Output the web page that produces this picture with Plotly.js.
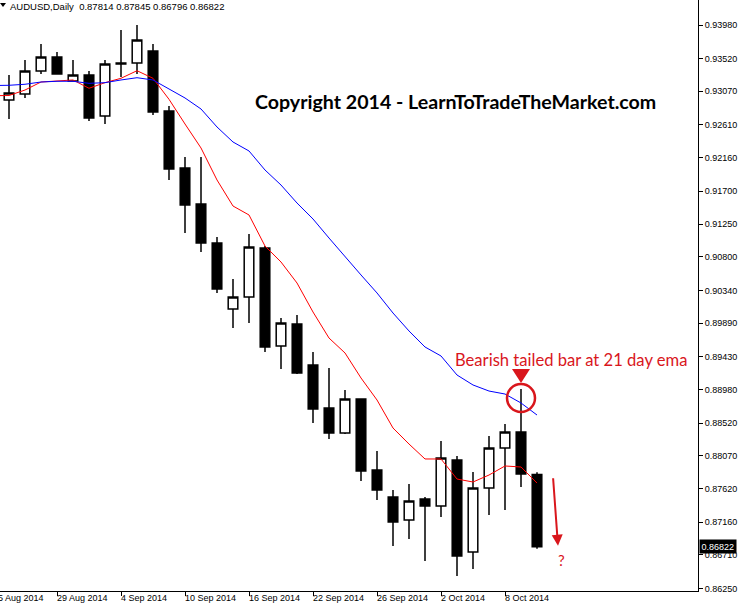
<!DOCTYPE html>
<html>
<head>
<meta charset="utf-8">
<script src="https://cdn.plot.ly/plotly-3.0.1.min.js"></script>
<style>html,body{margin:0;padding:0;background:#fff}#chart{width:738px;height:604px}</style>
</head>
<body>
<div id="chart"></div>
<script>
// ---- data ----
const dates = ['2014-08-26','2014-08-27','2014-08-28','2014-08-29','2014-09-01','2014-09-02','2014-09-03','2014-09-04','2014-09-05','2014-09-08','2014-09-09','2014-09-10','2014-09-11','2014-09-12','2014-09-15','2014-09-16','2014-09-17','2014-09-18','2014-09-19','2014-09-22','2014-09-23','2014-09-24','2014-09-25','2014-09-26','2014-09-29','2014-09-30','2014-10-01','2014-10-02','2014-10-03','2014-10-06','2014-10-07','2014-10-08','2014-10-09','2014-10-10'];
const open  = [0.92951,0.93034,0.93349,0.93541,0.93212,0.93294,0.92732,0.93459,0.93459,0.93623,0.92800,0.92018,0.91525,0.90990,0.90084,0.90249,0.90921,0.89577,0.89879,0.89316,0.88726,0.88383,0.88850,0.87876,0.87505,0.87190,0.87478,0.87382,0.88013,0.86751,0.87629,0.88178,0.88397,0.87814];
const high  = [0.93294,0.93500,0.93719,0.93610,0.93500,0.93349,0.93500,0.93911,0.93980,0.93719,0.92869,0.92169,0.92169,0.91072,0.90496,0.91113,0.90948,0.89961,0.90002,0.89494,0.89275,0.88973,0.88855,0.88136,0.87601,0.87684,0.87505,0.88274,0.88068,0.87848,0.88342,0.88507,0.88987,0.87845];
const low   = [0.92691,0.92979,0.93308,0.93300,0.93205,0.92663,0.92622,0.93267,0.93308,0.92745,0.91854,0.91127,0.90866,0.90304,0.89824,0.89892,0.89494,0.89261,0.89193,0.88520,0.88301,0.88370,0.87725,0.87464,0.86833,0.86929,0.86628,0.87231,0.86422,0.86518,0.87259,0.87327,0.87643,0.86796];
const close = [0.93047,0.93349,0.93541,0.93308,0.93294,0.92704,0.93445,0.93445,0.93774,0.92787,0.92005,0.91511,0.90990,0.90359,0.90249,0.90935,0.89563,0.89892,0.89206,0.88713,0.88383,0.88850,0.87862,0.87601,0.87162,0.87451,0.87382,0.88040,0.86696,0.87629,0.88178,0.88397,0.87821,0.86822];

const emaDates = ['2014-08-25'].concat(dates);
const ema10 = [0.93010,0.93013,0.93088,0.93198,0.93212,0.93226,0.93112,0.93189,0.93249,0.93353,0.93249,0.92961,0.92622,0.92293,0.91854,0.91497,0.91374,0.90948,0.90729,0.90441,0.90043,0.89686,0.89481,0.89138,0.88836,0.88452,0.88232,0.88027,0.88027,0.87752,0.87711,0.87807,0.87931,0.87917,0.87697];
const ema21 = [0.93150,0.93153,0.93167,0.93198,0.93208,0.93208,0.93180,0.93189,0.93226,0.93257,0.93226,0.93102,0.92979,0.92828,0.92581,0.92375,0.92252,0.91991,0.91785,0.91538,0.91319,0.91058,0.90798,0.90551,0.90304,0.90029,0.89783,0.89563,0.89440,0.89179,0.89042,0.88959,0.88918,0.88795,0.88630];

const xTickDates = ['2014-08-25','2014-08-29','2014-09-04','2014-09-10','2014-09-16','2014-09-22','2014-09-26','2014-10-02','2014-10-08'];
const xTickText  = ['25 Aug 2014','29 Aug 2014','4 Sep 2014','10 Sep 2014','16 Sep 2014','22 Sep 2014','26 Sep 2014','2 Oct 2014','8 Oct 2014'];
const yTickVals  = [0.93980,0.93520,0.93070,0.92610,0.92160,0.91700,0.91250,0.90800,0.90340,0.89890,0.89430,0.88980,0.88520,0.88070,0.87620,0.87160,0.86710,0.86250];

const symbol = 'AUDUSD,Daily';
const headerText = symbol + '  ' + [open[open.length-1], high[high.length-1], low[low.length-1], close[close.length-1]].map(v => v.toFixed(5)).join(' ');
const copyrightText = 'Copyright 2014 - LearnToTradeTheMarket.com';
const noteText = 'Bearish tailed bar at 21 day ema';
const noteDate = '2014-10-09';

// ---- helpers ----
function tIdx(d) {
  const t0 = Date.parse(dates[0]), t = Date.parse(d);
  let n = 0;
  if (t >= t0) { for (let s = t0; s < t; s += 864e5) { const wd = new Date(s + 864e5).getUTCDay(); if (wd !== 0 && wd !== 6) n++; } }
  else { for (let s = t0; s > t; s -= 864e5) { const wd = new Date(s - 864e5).getUTCDay(); if (wd !== 0 && wd !== 6) n--; } }
  return n;
}
const xs = dates.map(tIdx);
const emaX = emaDates.map(tIdx);
const xTickPos = xTickDates.map(tIdx);
const xRange = [-0.5625, 43.0625];

const axisFont = {family: 'Liberation Sans, Arial, sans-serif', size: 9, color: '#000'};
const RED = '#d9161c';

const traces = [
  {
    type: 'candlestick', x: xs, open: open, high: high, low: low, close: close,
    increasing: {line: {color: '#000', width: 1.5}, fillcolor: '#fff'},
    decreasing: {line: {color: '#000', width: 1.5}, fillcolor: '#000'},
    whiskerwidth: 0, hoverinfo: 'skip', showlegend: false
  },
  {type: 'scatter', mode: 'lines', x: emaX, y: ema10, line: {color: '#ff0000', width: 1}, hoverinfo: 'skip'},
  {type: 'scatter', mode: 'lines', x: emaX, y: ema21, line: {color: '#0000ff', width: 1}, hoverinfo: 'skip'}
];

const ni = xs[dates.indexOf(noteDate)];
const nHigh = high[dates.indexOf(noteDate)];
const li = xs[xs.length - 1];
const lLow = low[low.length - 1];
const lastClose = close[close.length - 1];

const annotations = [
  {xref: 'paper', yref: 'paper', x: 0, y: 1, xanchor: 'left', yanchor: 'top', xshift: 8, yshift: 1,
   text: headerText, showarrow: false, font: {family: axisFont.family, size: 9.5, color: '#000'}},
  {xref: 'paper', yref: 'paper', x: 455.5/698, y: 1 - 101/591, xanchor: 'center', yanchor: 'middle',
   text: '<b>' + copyrightText + '</b>', showarrow: false, font: {family: 'Lato, sans-serif', size: 19.6, color: '#000'}},
  {xref: 'x', yref: 'y', x: ni, y: nHigh, xanchor: 'center', yanchor: 'middle', xshift: 49.5, yshift: 29,
   text: noteText, showarrow: false, font: {family: 'Lato, sans-serif', size: 16.6, color: RED}},
  {xref: 'x', yref: 'y', x: li, y: lLow, xshift: 21, yshift: 3, text: '', showarrow: true,
   ax: -5, ay: -69, arrowhead: 2, arrowsize: 1.1, arrowwidth: 2, arrowcolor: RED, standoff: 0},
  {xref: 'x', yref: 'y', x: li, y: lLow, xshift: 24, yshift: -11, xanchor: 'center', yanchor: 'middle',
   text: '?', showarrow: false, font: {family: 'Lato, sans-serif', size: 15, color: RED}},
  {xref: 'paper', yref: 'y', x: 1, y: lastClose, xanchor: 'left', yanchor: 'middle', xshift: 1,
   text: lastClose.toFixed(5), showarrow: false, bgcolor: '#000', borderpad: 1.5,
   font: {family: axisFont.family, size: 9, color: '#fff'}}
];
xTickPos.forEach((p, k) => {
  annotations.push({xref: 'paper', yref: 'paper', x: (p - xRange[0]) / (xRange[1] - xRange[0]), y: 0,
    xanchor: 'left', yanchor: 'top', xshift: -1, yshift: -1, borderpad: 0,
    text: xTickText[k], showarrow: false, font: axisFont});
});

const shapes = [
  {type: 'circle', xref: 'x', yref: 'y', xsizemode: 'pixel', ysizemode: 'pixel', xanchor: ni, yanchor: nHigh,
   x0: -14, x1: 14, y0: -23, y1: 5, line: {color: RED, width: 2.5}},
  {type: 'path', xref: 'x', yref: 'y', xsizemode: 'pixel', ysizemode: 'pixel', xanchor: ni, yanchor: nHigh,
   path: 'M-9,20L9,20L0,6Z', fillcolor: RED, line: {width: 0}},
  {type: 'path', xref: 'paper', yref: 'paper', xsizemode: 'pixel', ysizemode: 'pixel', xanchor: 0, yanchor: 1,
   path: 'M0,-3L6,-3L3,-7Z', fillcolor: '#000', line: {width: 0}}
];

const layout = {
  width: 738, height: 604,
  margin: {l: 0, r: 40, t: 0, b: 13, pad: 0},
  paper_bgcolor: '#fff', plot_bgcolor: '#fff',
  showlegend: false, hovermode: false,
  boxgap: 0.4, boxgroupgap: 0,
  xaxis: {range: xRange, showgrid: false, zeroline: false, showline: true, linecolor: '#000', linewidth: 1,
          tickmode: 'array', tickvals: xTickPos, ticks: 'outside', ticklen: 4, tickcolor: '#000', showticklabels: false,
          rangeslider: {visible: false}, fixedrange: true},
  yaxis: {side: 'right', range: [0.86216, 0.94323], showgrid: false, zeroline: false, showline: true, linecolor: '#000', linewidth: 1,
          tickmode: 'array', tickvals: yTickVals, ticktext: yTickVals.map(v => v.toFixed(5)),
          ticks: 'outside', ticklen: 4, tickcolor: '#000', tickfont: axisFont, fixedrange: true},
  annotations: annotations, shapes: shapes
};

Plotly.newPlot('chart', traces, layout, {displayModeBar: false, staticPlot: true});
</script>
</body>
</html>
